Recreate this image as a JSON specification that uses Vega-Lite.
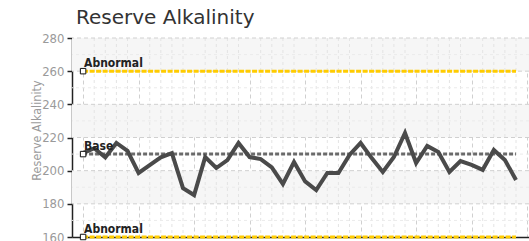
{
  "$schema": "https://vega.github.io/schema/vega-lite/v6.json",
  "autosize": "none",
  "padding": {"left": 72, "top": 38, "right": 0, "bottom": 4},
  "width": 457,
  "height": 199,
  "background": "white",
  "title": {
    "text": "Reserve Alkalinity",
    "anchor": "start",
    "frame": "group",
    "fontSize": 20,
    "font": "DejaVu Sans",
    "fontWeight": "normal",
    "color": "#333333",
    "dx": 4,
    "offset": 4
  },
  "config": {
    "view": {"stroke": null},
    "axis": {"labelFont": "Liberation Sans Narrow, DejaVu Sans Condensed, sans-serif", "titleFont": "Liberation Sans Narrow, DejaVu Sans Condensed, sans-serif"},
    "axisY": {"labelOverlap": false, "titleColor": "#9a9a9a", "titleFontSize": 12.5, "titleFontWeight": "normal", "titleX": -36, "titleY": 92, "titleBaseline": "middle", "titleAlign": "center", "titleAngle": -90,
      "labelColor": "#9a9a9a", "labelFontSize": 13, "labelPadding": 3, "domainColor": "#222222", "domainWidth": 1.5, "tickColor": "#222222", "tickSize": 5, "tickWidth": 1.5, "grid": false, "zindex": 1},
    "axisX": {"labels": false, "ticks": false, "domainColor": "#222222", "domainWidth": 1.5, "grid": true, "gridColor": "#d0d0d0", "gridDash": [4, 3], "gridWidth": 1}
  },
  "datasets": {
    "series": [
      {"i": 0, "v": 210.6}, {"i": 1, "v": 213.5}, {"i": 2, "v": 208.0}, {"i": 3, "v": 216.7},
      {"i": 4, "v": 212.0}, {"i": 5, "v": 198.6}, {"i": 6, "v": 203.4}, {"i": 7, "v": 208.0},
      {"i": 8, "v": 210.6}, {"i": 9, "v": 189.5}, {"i": 10, "v": 185.3}, {"i": 11, "v": 208.2},
      {"i": 12, "v": 201.6}, {"i": 13, "v": 206.4}, {"i": 14, "v": 216.7}, {"i": 15, "v": 208.2},
      {"i": 16, "v": 207.0}, {"i": 17, "v": 202.0}, {"i": 18, "v": 192.0}, {"i": 19, "v": 205.2},
      {"i": 20, "v": 193.5}, {"i": 21, "v": 188.3}, {"i": 22, "v": 198.6}, {"i": 23, "v": 198.6},
      {"i": 24, "v": 209.5}, {"i": 25, "v": 216.7}, {"i": 26, "v": 207.6}, {"i": 27, "v": 199.2},
      {"i": 28, "v": 208.2}, {"i": 29, "v": 222.7}, {"i": 30, "v": 204.6}, {"i": 31, "v": 214.9},
      {"i": 32, "v": 211.2}, {"i": 33, "v": 199.2}, {"i": 34, "v": 205.8}, {"i": 35, "v": 203.5},
      {"i": 36, "v": 200.5}, {"i": 37, "v": 212.5}, {"i": 38, "v": 206.4}, {"i": 39, "v": 194.4}
    ],
    "refs": [
      {"label": "Abnormal", "kind": "abnormal", "value": 260, "start": 0, "end": 39},
      {"label": "Base", "kind": "base", "value": 210, "start": 0, "end": 39},
      {"label": "Abnormal", "kind": "abnormal", "value": 160, "start": 0, "end": 39}
    ],
    "bands": [
      {"lo": 260, "hi": 280}, {"lo": 220, "hi": 240}, {"lo": 180, "hi": 200}
    ],
    "minorx": [
      {"g": 1}, {"g": 2}, {"g": 3}, {"g": 4}, {"g": 6}, {"g": 7}, {"g": 8}, {"g": 9},
      {"g": 11}, {"g": 12}, {"g": 13}, {"g": 14}, {"g": 16}, {"g": 17}, {"g": 18}, {"g": 19},
      {"g": 21}, {"g": 22}, {"g": 23}, {"g": 24}, {"g": 26}, {"g": 27}, {"g": 28}, {"g": 29},
      {"g": 31}, {"g": 32}, {"g": 33}, {"g": 34}, {"g": 36}, {"g": 37}, {"g": 38}, {"g": 39}
    ],
    "minory": [
      {"h": 170}, {"h": 190}, {"h": 210}, {"h": 230}, {"h": 250}, {"h": 270}
    ],
    "majory": [
      {"h": 180}, {"h": 200}, {"h": 220}, {"h": 240}, {"h": 260}, {"h": 280}
    ]
  },
  "layer": [
    {
      "data": {"name": "bands"},
      "mark": {"type": "rect", "color": "#f6f6f6"},
      "encoding": {
        "y": {"field": "lo", "type": "quantitative", "scale": {"domain": [160, 280], "nice": false, "zero": false},
          "axis": {"values": [160, 180, 200, 220, 240, 260, 280], "title": "Reserve Alkalinity"}},
        "y2": {"field": "hi"}
      }
    },
    {
      "data": {"name": "minorx"},
      "mark": {"type": "rule", "color": "#e4e4e4", "strokeDash": [3, 3], "strokeWidth": 1},
      "encoding": {
        "x": {"field": "g", "type": "quantitative", "scale": {"domain": [-1, 40.17], "nice": false, "zero": false},
          "axis": {"values": [0, 5, 10, 15, 20, 25, 30, 35, 40], "title": null}}
      }
    },
    {
      "data": {"name": "minory"},
      "mark": {"type": "rule", "color": "#ebebeb", "strokeDash": [3, 3], "strokeWidth": 1},
      "encoding": {
        "y": {"field": "h", "type": "quantitative", "axis": {"values": [160, 180, 200, 220, 240, 260, 280], "title": "Reserve Alkalinity"}}
      }
    },
    {
      "data": {"name": "majory"},
      "mark": {"type": "rule", "color": "#d0d0d0", "strokeDash": [4, 3], "strokeWidth": 1},
      "encoding": {
        "y": {"field": "h", "type": "quantitative", "axis": {"values": [160, 180, 200, 220, 240, 260, 280], "title": "Reserve Alkalinity"}}
      }
    },
    {
      "data": {"name": "refs"},
      "transform": [{"filter": "datum.kind == 'abnormal'"}],
      "mark": {"type": "rule", "color": "#FFCC00", "strokeWidth": 3, "strokeDash": [5, 1.5]},
      "encoding": {
        "x": {"field": "start", "type": "quantitative", "axis": {"values": [0, 5, 10, 15, 20, 25, 30, 35, 40], "title": null}},
        "x2": {"field": "end"},
        "y": {"field": "value", "type": "quantitative", "axis": {"values": [160, 180, 200, 220, 240, 260, 280], "title": "Reserve Alkalinity"}}
      }
    },
    {
      "data": {"name": "refs"},
      "transform": [{"filter": "datum.kind == 'base'"}],
      "mark": {"type": "rule", "color": "#6a6a6a", "strokeWidth": 3, "strokeDash": [4, 2]},
      "encoding": {
        "x": {"field": "start", "type": "quantitative", "axis": {"values": [0, 5, 10, 15, 20, 25, 30, 35, 40], "title": null}},
        "x2": {"field": "end"},
        "y": {"field": "value", "type": "quantitative", "axis": {"values": [160, 180, 200, 220, 240, 260, 280], "title": "Reserve Alkalinity"}}
      }
    },
    {
      "data": {"name": "series"},
      "mark": {"type": "line", "color": "#4a4a4a", "strokeWidth": 4, "strokeJoin": "miter"},
      "encoding": {
        "x": {"field": "i", "type": "quantitative", "axis": {"values": [0, 5, 10, 15, 20, 25, 30, 35, 40], "title": null}},
        "y": {"field": "v", "type": "quantitative", "axis": {"values": [160, 180, 200, 220, 240, 260, 280], "title": "Reserve Alkalinity"}}
      }
    },
    {
      "data": {"name": "refs"},
      "mark": {"type": "point", "shape": "square", "size": 30, "filled": true, "fill": "white", "stroke": "#111111", "strokeWidth": 1, "opacity": 1},
      "encoding": {
        "x": {"field": "start", "type": "quantitative", "axis": {"values": [0, 5, 10, 15, 20, 25, 30, 35, 40], "title": null}},
        "y": {"field": "value", "type": "quantitative", "axis": {"values": [160, 180, 200, 220, 240, 260, 280], "title": "Reserve Alkalinity"}}
      }
    },
    {
      "data": {"name": "refs"},
      "mark": {"type": "text", "align": "left", "baseline": "alphabetic", "dx": 1, "dy": -4, "fontSize": 12, "fontWeight": "bold", "font": "Liberation Sans Narrow, DejaVu Sans Condensed, sans-serif", "color": "#222222"},
      "encoding": {
        "x": {"field": "start", "type": "quantitative", "axis": {"values": [0, 5, 10, 15, 20, 25, 30, 35, 40], "title": null}},
        "y": {"field": "value", "type": "quantitative", "axis": {"values": [160, 180, 200, 220, 240, 260, 280], "title": "Reserve Alkalinity"}},
        "text": {"field": "label"}
      }
    }
  ]
}
